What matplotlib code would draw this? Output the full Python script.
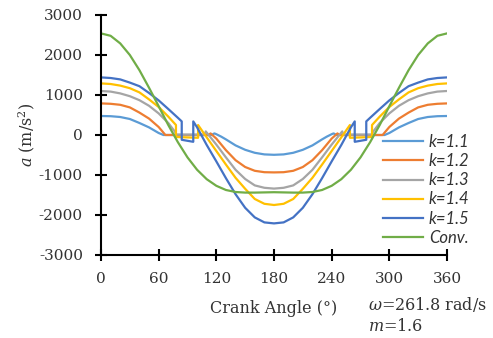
import matplotlib
matplotlib.use("Agg")
import matplotlib.pyplot as plt
from matplotlib.font_manager import FontProperties

plt.rcParams['mathtext.fontset'] = 'dejavuserif'
plt.rcParams['font.family'] = 'DejaVu Serif'
plt.rcParams['axes.unicode_minus'] = False

# Crank angle (deg) and acceleration (m/s^2) for each mechanism setting
angle_k11 = [0, 10, 20, 30, 40, 50, 60, 65, 115, 118, 120, 125, 130, 140, 150, 160, 170, 180,
             190, 200, 210, 220, 230, 235, 240, 242, 245, 295, 300, 310, 320, 330, 340, 350, 360]
accel_k11 = [475, 470, 450, 400, 300, 190, 50, 0, 0, 40, 20, -40, -110, -260, -370, -445, -485, -495,
             -485, -445, -370, -260, -110, -40, 20, 40, 0, 0, 50, 190, 300, 400, 450, 470, 475]

angle_k12 = [0, 10, 20, 30, 40, 50, 60, 67, 112, 114, 120, 130, 140, 150, 160, 170, 180,
             190, 200, 210, 220, 230, 240, 246, 248, 293, 300, 310, 320, 330, 340, 350, 360]
accel_k12 = [790, 780, 755, 690, 560, 410, 200, 0, 0, 40, -90, -380, -630, -800, -895, -930, -935,
             -930, -895, -800, -630, -380, -90, 40, 0, 0, 200, 410, 560, 690, 755, 780, 790]

angle_k13 = [0, 10, 20, 30, 40, 50, 60, 70, 77, 78, 108, 109, 120, 130, 140, 150, 160, 170, 180,
             190, 200, 210, 220, 230, 240, 251, 252, 282, 283, 290, 300, 310, 320, 330, 340, 350, 360]
accel_k13 = [1100, 1085, 1040, 970, 870, 730, 540, 300, 80, 10, 10, 90, -240, -560, -870, -1100, -1260, -1320, -1340,
             -1320, -1260, -1100, -870, -560, -240, 90, 10, 10, 80, 300, 540, 730, 870, 970, 1040, 1085, 1100]

angle_k14 = [0, 10, 20, 30, 40, 50, 60, 70, 78, 78, 101, 101, 110, 120, 130, 140, 150, 160, 170, 180,
             190, 200, 210, 220, 230, 240, 250, 259, 259, 282, 282, 290, 300, 310, 320, 330, 340, 350, 360]
accel_k14 = [1290, 1275, 1235, 1170, 1065, 890, 700, 460, 250, -50, -70, 250, -60, -400, -740, -1070, -1345, -1600, -1720, -1750,
             -1720, -1600, -1345, -1070, -740, -400, -60, 250, -70, -50, 250, 460, 700, 890, 1065, 1170, 1235, 1275, 1290]

angle_k15 = [0, 10, 20, 30, 40, 50, 60, 70, 80, 84, 84, 96, 96, 100, 110, 120, 130, 140, 150, 160, 170, 180,
             190, 200, 210, 220, 230, 240, 250, 260, 264, 264, 276, 276, 280, 290, 300, 310, 320, 330, 340, 350, 360]
accel_k15 = [1440, 1425, 1390, 1310, 1220, 1050, 865, 650, 430, 340, -120, -170, 340, 190, -250, -660, -1080, -1480, -1820, -2060, -2185, -2210,
             -2185, -2060, -1820, -1480, -1080, -660, -250, 190, 340, -170, -120, 340, 430, 650, 865, 1050, 1220, 1310, 1390, 1425, 1440]

angle_conv = [0, 10, 20, 30, 40, 50, 60, 70, 80, 90, 100, 110, 120, 130, 140, 150, 160, 170, 180,
              190, 200, 210, 220, 230, 240, 250, 260, 270, 280, 290, 300, 310, 320, 330, 340, 350, 360]
accel_conv = [2540, 2480, 2290, 2000, 1620, 1180, 720, 250, -180, -560, -870, -1105, -1270, -1375, -1425, -1440, -1440, -1435, -1430,
              -1435, -1440, -1440, -1425, -1375, -1270, -1105, -870, -560, -180, 250, 720, 1180, 1620, 2000, 2290, 2480, 2540]

series_labels = ["k=1.1", "k=1.2", "k=1.3", "k=1.4", "k=1.5", "Conv."]
series_colors = ["#5B9BD5", "#ED7D31", "#A5A5A5", "#FFC000", "#4472C4", "#70AD47"]
series_data = [(angle_k11, accel_k11), (angle_k12, accel_k12), (angle_k13, accel_k13),
               (angle_k14, accel_k14), (angle_k15, accel_k15), (angle_conv, accel_conv)]

x_ticks = [0, 60, 120, 180, 240, 300, 360]
y_ticks = [-3000, -2000, -1000, 0, 1000, 2000, 3000]

W, H = 493, 338
fig = plt.figure(figsize=(W / 100, H / 100), dpi=100)
ax = fig.add_axes([101 / W, 1 - 255 / H, 346 / W, 240 / H])

handles = []
for (ang, acc), lab, col in zip(series_data, series_labels, series_colors):
    ln, = ax.plot(ang, acc, color=col, lw=1.6, label=lab)
    handles.append(ln)

ax.set_xlim(0, 360)
ax.set_ylim(-3000, 3000)
ax.set_xticks(x_ticks)
ax.set_yticks(y_ticks)
for s in ("top", "right"):
    ax.spines[s].set_visible(False)
for s in ("left", "bottom"):
    ax.spines[s].set_linewidth(1.5)
    ax.spines[s].set_color("black")
ax.tick_params(direction="inout", length=8, width=1.5, labelsize=11,
               colors="black", labelcolor="#333333")
ax.tick_params(axis="y", pad=9)
ax.tick_params(axis="x", pad=8)

ax.set_xlabel("Crank Angle (°)", fontsize=11.5, color="#333333")
ax.xaxis.set_label_coords(0.5, -(313 - 255) / 240, transform=None)
ax.xaxis.label.set_va("baseline")
ax.xaxis.set_label_coords(0.5, -(313 - 255) / 240)
ax.set_ylabel(r"$a$ (m/s$^2$)", fontsize=11.5, color="#333333")
ax.yaxis.set_label_coords(-(101 - 37) / 346, 0.5)

leg_font = FontProperties(family="Lato", style="italic", size=12)
fig.legend(handles, series_labels, loc="upper left",
           bbox_to_anchor=(383 / W, 1 - 134 / H), bbox_transform=fig.transFigure,
           frameon=False, prop=leg_font, handlelength=2.4, handletextpad=0.35,
           labelspacing=0.19, borderpad=0, borderaxespad=0, labelcolor="#333333")

fig.text(368 / W, 1 - 310 / H, r"$\omega$=261.8 rad/s", fontsize=11.5, color="#333333",
         ha="left", va="baseline")
fig.text(368 / W, 1 - 331 / H, r"$m$=1.6", fontsize=11.5, color="#333333",
         ha="left", va="baseline")

fig.savefig("out.png", dpi=100)
